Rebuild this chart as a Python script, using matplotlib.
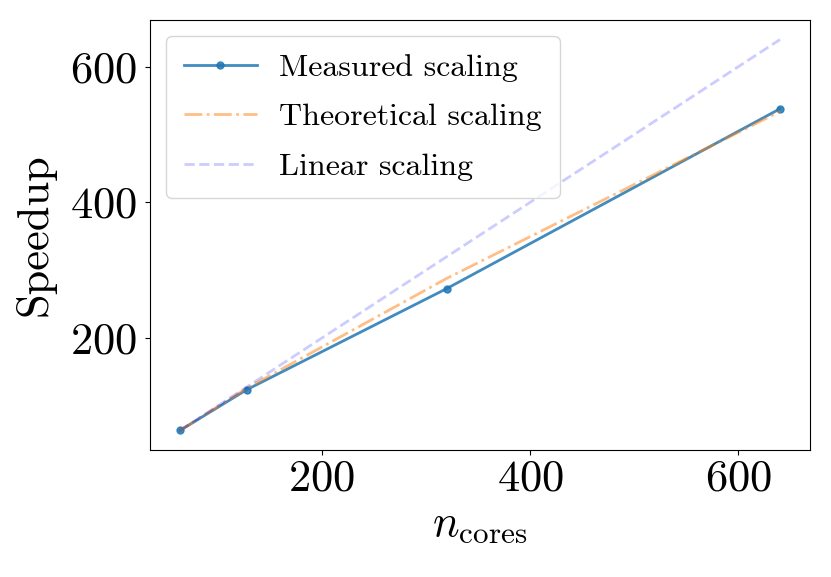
import matplotlib
matplotlib.use('Agg')
import matplotlib.pyplot as plt

plt.rcParams['font.family'] = 'serif'
plt.rcParams['font.serif'] = ['cmr10']
plt.rcParams['mathtext.fontset'] = 'cm'
plt.rcParams['axes.unicode_minus'] = False
plt.rcParams['axes.formatter.use_mathtext'] = True

# data
n_cores = [64, 128, 320, 640]
measured = [64, 124, 273, 538]
theoretical = [64, 126, 288, 534]
linear = [64, 128, 320, 640]

fig = plt.figure(figsize=(8.31, 5.77), dpi=100)
ax = fig.add_axes([150 / 831, 127 / 577, 660 / 831, 430 / 577])

ax.plot(n_cores, measured, '-o', color='#1f77b4', alpha=0.85, lw=2, ms=5, label='Measured scaling')
ax.plot(n_cores, theoretical, '-.', color='#ff7f0e', alpha=0.5, lw=2, label='Theoretical scaling')
ax.plot(n_cores, linear, '--', color='blue', alpha=0.2, lw=2, label='Linear scaling')

ax.set_xticks([200, 400, 600])
ax.set_yticks([200, 400, 600])
ax.tick_params(labelsize=32)
ax.tick_params(axis='y', pad=6)
ax.set_xlabel(r'$n_{\rm cores}$', fontsize=32)
ax.set_ylabel('Speedup', fontsize=32, labelpad=10)
ax.legend(fontsize=23, loc='upper left', labelspacing=0.66, borderpad=0.55,
          handlelength=2.3, handletextpad=0.7)

fig.savefig('out.png', dpi=100)
